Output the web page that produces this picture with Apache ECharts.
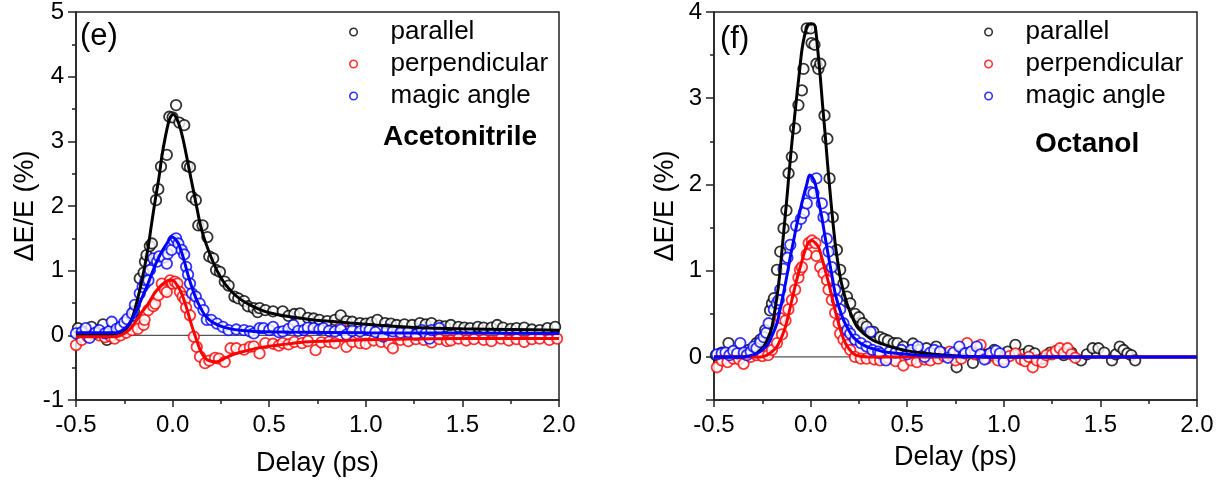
<!DOCTYPE html>
<html>
<head>
<meta charset="utf-8">
<script src="https://cdn.jsdelivr.net/npm/echarts@6/dist/echarts.min.js"></script>
<style>
  html, body { margin: 0; padding: 0; background: #fff; }
  #chart { width: 1228px; height: 486px; }
</style>
</head>
<body>
<div id="chart"></div>
<script>
// tick labels / ranges
var xTicks = [-0.5, 0.0, 0.5, 1.0, 1.5, 2.0];
var yTicksE = [-1, 0, 1, 2, 3, 4, 5];
var yTicksF = [0, 1, 2, 3, 4];
var legendNames = ['parallel', 'perpendicular', 'magic angle'];
var zeroLine = [[-0.5, 0], [2.0, 0]];

// (e) Acetonitrile - measured points
var eParallel = [[-0.49,0.11],[-0.46,0.06],[-0.42,0.13],[-0.39,0.04],[-0.36,0.17],[-0.35,-0.02],[-0.34,-0.07],[-0.31,0.05],[-0.28,0.08],[-0.25,0.10],[-0.21,0.30],[-0.2,0.37],[-0.17,0.88],[-0.15,0.97],[-0.143,1.14],[-0.135,1.24],[-0.118,1.38],[-0.107,1.42],[-0.086,2.09],[-0.074,2.26],[-0.06,2.61],[-0.03,2.79],[-0.017,3.38],[0.0,3.37],[0.018,3.56],[0.035,3.29],[0.06,3.25],[0.076,2.62],[0.09,2.6],[0.10,2.14],[0.12,2.09],[0.133,1.70],[0.155,1.70],[0.18,1.52],[0.19,1.22],[0.21,1.19],[0.225,1.01],[0.245,0.98],[0.27,0.83],[0.29,0.77],[0.32,0.60],[0.34,0.57],[0.37,0.53],[0.39,0.45],[0.42,0.42],[0.44,0.36],[0.45,0.42],[0.48,0.39],[0.52,0.37],[0.57,0.37],[0.60,0.30],[0.63,0.33],[0.66,0.34],[0.70,0.27],[0.73,0.26],[0.76,0.24],[0.80,0.22],[0.84,0.24],[0.87,0.31],[0.90,0.22],[0.93,0.21],[0.97,0.19],[1.00,0.18],[1.03,0.20],[1.06,0.24],[1.10,0.19],[1.13,0.18],[1.16,0.16],[1.20,0.17],[1.24,0.16],[1.28,0.19],[1.31,0.17],[1.34,0.19],[1.38,0.15],[1.41,0.14],[1.44,0.16],[1.48,0.13],[1.51,0.12],[1.54,0.11],[1.58,0.13],[1.61,0.12],[1.65,0.12],[1.68,0.16],[1.71,0.12],[1.75,0.10],[1.78,0.11],[1.82,0.12],[1.86,0.09],[1.90,0.08],[1.94,0.11],[1.98,0.13]];
var ePerp = [[-0.50,-0.15],[-0.47,-0.07],[-0.44,-0.02],[-0.41,0.02],[-0.38,0.0],[-0.35,-0.03],[-0.32,-0.02],[-0.30,-0.05],[-0.27,0.0],[-0.24,0.04],[-0.21,0.08],[-0.18,0.10],[-0.15,0.16],[-0.145,0.24],[-0.126,0.39],[-0.10,0.45],[-0.09,0.49],[-0.074,0.62],[-0.056,0.80],[-0.04,0.70],[-0.03,0.67],[-0.013,0.85],[0.0,0.80],[0.012,0.83],[0.025,0.80],[0.038,0.67],[0.052,0.60],[0.064,0.55],[0.07,0.43],[0.09,0.31],[0.11,-0.02],[0.125,-0.18],[0.142,-0.33],[0.168,-0.43],[0.19,-0.39],[0.22,-0.35],[0.24,-0.36],[0.27,-0.41],[0.30,-0.20],[0.33,-0.20],[0.37,-0.22],[0.40,-0.18],[0.42,-0.17],[0.45,-0.28],[0.48,-0.12],[0.52,-0.13],[0.55,-0.16],[0.57,-0.12],[0.60,-0.14],[0.63,-0.10],[0.67,-0.12],[0.70,-0.09],[0.74,-0.23],[0.77,-0.11],[0.81,-0.10],[0.84,-0.12],[0.87,0.13],[0.90,-0.18],[0.93,-0.10],[0.97,-0.12],[1.00,-0.13],[1.04,-0.08],[1.08,-0.10],[1.12,-0.13],[1.14,-0.20],[1.18,-0.07],[1.22,-0.09],[1.26,-0.06],[1.30,-0.07],[1.34,-0.11],[1.38,-0.06],[1.42,-0.09],[1.44,-0.08],[1.48,-0.05],[1.52,-0.08],[1.56,-0.06],[1.61,-0.07],[1.65,-0.09],[1.70,-0.05],[1.74,-0.08],[1.78,-0.06],[1.82,-0.10],[1.86,-0.06],[1.90,-0.05],[1.95,-0.07],[1.99,-0.05]];
var eMagic = [[-0.50,0.03],[-0.47,0.05],[-0.45,0.11],[-0.43,-0.04],[-0.40,0.04],[-0.38,0.08],[-0.35,0.03],[-0.33,0.06],[-0.315,0.21],[-0.29,0.10],[-0.27,0.13],[-0.25,0.20],[-0.235,0.25],[-0.21,0.34],[-0.195,0.47],[-0.17,0.65],[-0.155,0.75],[-0.143,0.80],[-0.14,0.85],[-0.125,0.85],[-0.117,1.01],[-0.10,1.19],[-0.08,1.14],[-0.07,1.22],[-0.045,1.20],[-0.03,1.11],[-0.025,1.26],[-0.005,1.32],[0.004,1.47],[0.018,1.50],[0.03,1.42],[0.047,1.32],[0.06,1.25],[0.07,1.06],[0.08,0.94],[0.09,0.80],[0.10,0.65],[0.12,0.60],[0.14,0.49],[0.16,0.39],[0.177,0.24],[0.20,0.24],[0.23,0.18],[0.26,0.13],[0.29,0.08],[0.33,0.09],[0.37,0.08],[0.40,0.06],[0.42,0.03],[0.45,0.11],[0.47,0.11],[0.50,0.08],[0.52,0.13],[0.55,0.05],[0.57,0.06],[0.60,0.10],[0.625,0.16],[0.65,0.07],[0.68,0.08],[0.70,0.12],[0.73,0.11],[0.76,0.09],[0.78,0.11],[0.81,0.07],[0.84,0.06],[0.87,0.09],[0.90,0.01],[0.93,0.07],[0.97,0.06],[1.00,0.10],[1.02,0.08],[1.05,0.05],[1.09,-0.02],[1.11,0.09],[1.14,0.06],[1.18,0.04],[1.22,0.05],[1.26,0.01],[1.29,0.08],[1.31,0.03],[1.33,-0.05],[1.34,0.08],[1.38,0.11]];

// (e) fitted curves
var eParallelFit = [[-0.5,0],[-0.35,0.0],[-0.3,0.02],[-0.25,0.08],[-0.22,0.19],[-0.2,0.35],[-0.17,0.70],[-0.15,0.98],[-0.126,1.37],[-0.11,1.70],[-0.09,2.09],[-0.07,2.45],[-0.056,2.76],[-0.04,3.03],[-0.022,3.28],[-0.01,3.38],[0.004,3.42],[0.02,3.36],[0.038,3.22],[0.055,3.02],[0.073,2.76],[0.09,2.50],[0.107,2.25],[0.125,1.98],[0.142,1.73],[0.16,1.53],[0.185,1.32],[0.21,1.13],[0.237,0.96],[0.27,0.80],[0.314,0.65],[0.35,0.56],[0.40,0.47],[0.45,0.40],[0.5,0.35],[0.6,0.29],[0.7,0.25],[0.8,0.22],[0.92,0.19],[1.05,0.16],[1.26,0.12],[1.5,0.10],[1.75,0.09],[2.0,0.08]];
var ePerpFit = [[-0.5,-0.02],[-0.3,-0.02],[-0.255,0.02],[-0.22,0.10],[-0.19,0.22],[-0.16,0.36],[-0.13,0.47],[-0.10,0.62],[-0.07,0.74],[-0.045,0.81],[-0.02,0.85],[0.0,0.85],[0.02,0.79],[0.04,0.69],[0.06,0.54],[0.075,0.40],[0.09,0.24],[0.107,0.08],[0.125,-0.08],[0.142,-0.22],[0.16,-0.32],[0.18,-0.38],[0.2,-0.40],[0.228,-0.41],[0.26,-0.37],[0.31,-0.30],[0.38,-0.24],[0.45,-0.19],[0.52,-0.16],[0.66,-0.11],[0.8,-0.09],[1.0,-0.07],[1.5,-0.05],[2.0,-0.05]];
var eMagicFit = [[-0.5,0.04],[-0.35,0.04],[-0.29,0.04],[-0.238,0.13],[-0.21,0.25],[-0.186,0.39],[-0.16,0.57],[-0.134,0.75],[-0.108,0.95],[-0.082,1.14],[-0.055,1.30],[-0.03,1.42],[-0.005,1.52],[0.01,1.50],[0.03,1.42],[0.047,1.28],[0.064,1.11],[0.08,0.93],[0.099,0.75],[0.12,0.58],[0.142,0.44],[0.165,0.32],[0.19,0.24],[0.22,0.18],[0.26,0.13],[0.3,0.10],[0.35,0.08],[0.435,0.06],[0.6,0.05],[1.0,0.04],[1.5,0.035],[2.0,0.03]];

// (f) Octanol - measured points
var fParallel = [[-0.49,0.02],[-0.46,0.05],[-0.425,0.16],[-0.40,0.06],[-0.38,0.0],[-0.35,0.03],[-0.32,0.08],[-0.30,0.05],[-0.28,0.16],[-0.26,0.20],[-0.235,0.31],[-0.21,0.54],[-0.2,0.62],[-0.19,0.68],[-0.174,1.01],[-0.157,1.22],[-0.14,1.49],[-0.125,1.70],[-0.114,2.13],[-0.097,2.32],[-0.08,2.65],[-0.063,2.92],[-0.045,3.09],[-0.037,3.34],[-0.02,3.81],[0.0,3.81],[0.005,3.64],[0.02,3.62],[0.03,3.40],[0.04,3.34],[0.05,3.40],[0.072,2.80],[0.087,2.53],[0.098,2.07],[0.115,1.62],[0.136,1.24],[0.153,1.01],[0.17,0.85],[0.188,0.70],[0.205,0.62],[0.23,0.50],[0.25,0.46],[0.27,0.39],[0.29,0.35],[0.325,0.29],[0.36,0.23],[0.38,0.21],[0.40,0.19],[0.43,0.16],[0.45,0.16],[0.48,0.12],[0.53,0.155],[0.56,0.08],[0.60,0.10],[0.65,0.12],[0.68,0.05],[0.72,0.02],[0.756,-0.12],[0.79,0.04],[0.84,-0.07],[0.88,0.05],[0.92,0.03],[0.95,0.08],[0.98,0.0],[1.02,0.06],[1.06,0.14],[1.10,0.03],[1.13,0.07],[1.16,0.04],[1.20,-0.02],[1.24,0.05],[1.28,0.06],[1.31,0.02],[1.35,0.05],[1.40,-0.04],[1.43,0.03],[1.46,0.10],[1.49,0.10],[1.52,0.05],[1.56,-0.04],[1.58,0.03],[1.60,0.12],[1.62,0.08],[1.64,0.04],[1.66,0.02],[1.68,-0.04]];
var fPerp = [[-0.485,-0.12],[-0.46,-0.04],[-0.43,-0.06],[-0.40,-0.02],[-0.37,-0.03],[-0.347,-0.08],[-0.31,0.0],[-0.28,0.02],[-0.25,0.01],[-0.22,0.02],[-0.2,0.08],[-0.174,0.16],[-0.157,0.45],[-0.148,0.26],[-0.13,0.42],[-0.115,0.55],[-0.097,0.66],[-0.08,0.78],[-0.063,0.92],[-0.055,1.01],[-0.045,1.04],[-0.02,1.19],[-0.01,1.32],[0.007,1.35],[0.025,1.32],[0.03,1.17],[0.05,1.04],[0.067,0.97],[0.085,0.89],[0.093,0.78],[0.11,0.66],[0.127,0.51],[0.145,0.39],[0.153,0.27],[0.17,0.20],[0.188,0.14],[0.205,0.08],[0.23,0.0],[0.26,-0.02],[0.29,-0.02],[0.33,-0.03],[0.36,-0.04],[0.40,-0.01],[0.44,-0.05],[0.48,-0.10],[0.52,-0.04],[0.55,-0.06],[0.59,-0.03],[0.62,-0.04],[0.66,-0.02],[0.69,0.01],[0.72,0.06],[0.75,-0.04],[0.78,-0.02],[0.81,0.16],[0.85,0.03],[0.88,0.14],[0.91,-0.02],[0.94,0.02],[0.97,-0.04],[1.0,-0.03],[1.03,0.01],[1.06,0.04],[1.09,-0.03],[1.11,-0.05],[1.13,0.0],[1.15,-0.12],[1.17,-0.04],[1.2,-0.06],[1.22,0.02],[1.25,0.03],[1.27,0.07],[1.29,0.10],[1.31,0.04],[1.33,0.10],[1.35,0.03],[1.37,-0.01]];
var fMagic = [[-0.485,0.03],[-0.46,0.04],[-0.44,0.05],[-0.42,0.02],[-0.40,0.07],[-0.38,0.04],[-0.364,0.16],[-0.345,0.05],[-0.33,0.02],[-0.31,0.06],[-0.295,0.12],[-0.28,0.10],[-0.26,0.17],[-0.243,0.23],[-0.23,0.28],[-0.217,0.39],[-0.19,0.55],[-0.175,0.62],[-0.165,0.66],[-0.157,0.78],[-0.14,1.02],[-0.12,1.15],[-0.105,1.30],[-0.075,1.52],[-0.05,1.60],[-0.035,1.67],[-0.02,1.78],[0.0,1.91],[0.015,1.90],[0.03,2.07],[0.058,1.78],[0.067,1.62],[0.084,1.37],[0.093,1.22],[0.11,1.04],[0.127,0.78],[0.136,0.66],[0.153,0.55],[0.17,0.39],[0.19,0.31],[0.205,0.27],[0.23,0.20],[0.26,0.16],[0.29,0.12],[0.31,0.29],[0.32,0.08],[0.35,0.06],[0.36,0.04],[0.39,-0.04],[0.41,0.06],[0.44,0.05],[0.47,0.08],[0.50,0.03],[0.52,0.08],[0.555,0.12],[0.59,0.0],[0.62,0.05],[0.64,0.08],[0.67,0.06],[0.71,-0.01],[0.74,0.05],[0.77,0.12],[0.80,0.04],[0.83,0.06],[0.86,0.12],[0.88,0.03],[0.90,-0.03],[0.93,0.04],[0.96,0.07],[0.98,0.04],[1.0,-0.06]];

// (f) fitted curves
var fParallelFit = [[-0.5,0],[-0.35,0.0],[-0.295,0.02],[-0.243,0.12],[-0.22,0.22],[-0.20,0.35],[-0.174,0.70],[-0.16,0.95],[-0.148,1.24],[-0.135,1.55],[-0.122,1.86],[-0.11,2.17],[-0.097,2.48],[-0.083,2.78],[-0.07,3.06],[-0.057,3.32],[-0.045,3.56],[-0.03,3.74],[-0.015,3.84],[0.0,3.86],[0.012,3.86],[0.024,3.83],[0.037,3.56],[0.05,3.25],[0.062,2.92],[0.075,2.59],[0.087,2.26],[0.10,1.93],[0.113,1.62],[0.127,1.32],[0.14,1.11],[0.153,0.93],[0.17,0.76],[0.188,0.62],[0.21,0.49],[0.24,0.35],[0.28,0.26],[0.325,0.19],[0.37,0.15],[0.41,0.12],[0.5,0.07],[0.6,0.04],[0.7,0.02],[0.9,0.0],[2.0,0.0]];
var fPerpFit = [[-0.5,0],[-0.3,0.0],[-0.26,0.0],[-0.226,0.02],[-0.2,0.06],[-0.174,0.12],[-0.15,0.23],[-0.13,0.35],[-0.113,0.50],[-0.097,0.66],[-0.08,0.82],[-0.063,0.97],[-0.045,1.11],[-0.028,1.24],[-0.01,1.33],[0.007,1.35],[0.02,1.33],[0.04,1.28],[0.058,1.15],[0.075,1.01],[0.093,0.86],[0.11,0.70],[0.127,0.54],[0.145,0.39],[0.162,0.26],[0.18,0.16],[0.2,0.09],[0.22,0.04],[0.25,0.01],[0.3,0.0],[2.0,0.0]];
var fMagicFit = [[-0.5,0],[-0.35,0.0],[-0.277,0.04],[-0.245,0.09],[-0.217,0.16],[-0.195,0.27],[-0.174,0.39],[-0.157,0.56],[-0.14,0.74],[-0.122,0.95],[-0.105,1.16],[-0.087,1.36],[-0.07,1.55],[-0.052,1.72],[-0.037,1.86],[-0.02,2.0],[-0.005,2.11],[0.01,2.08],[0.024,2.01],[0.04,1.82],[0.058,1.62],[0.075,1.39],[0.093,1.16],[0.11,0.95],[0.127,0.74],[0.148,0.57],[0.17,0.43],[0.195,0.32],[0.22,0.23],[0.25,0.17],[0.29,0.12],[0.33,0.09],[0.377,0.06],[0.45,0.04],[0.55,0.02],[0.7,0.01],[1.0,0.0],[2.0,0.0]];

var FONT = '"Liberation Sans", Arial, sans-serif';
var AX = '#222';
var colors = ['#000000', '#ff0000', '#0000ff'];

var chart = echarts.init(document.getElementById('chart'), null, { renderer: 'canvas' });

function xAxisOf(grid, gap) {
  return {
    type: 'value', gridIndex: grid, min: xTicks[0], max: xTicks[xTicks.length - 1], interval: 0.5,
    name: 'Delay (ps)', nameLocation: 'middle', nameGap: gap,
    nameTextStyle: { fontFamily: FONT, fontSize: 27, color: '#000' },
    axisLine: { show: true, onZero: false, lineStyle: { color: AX, width: 1.5 } },
    axisTick: { show: true, inside: false, length: 7, lineStyle: { color: AX, width: 1.5 } },
    minorTick: { show: true, splitNumber: 2, length: 4, lineStyle: { color: AX, width: 1.5 } },
    splitLine: { show: false },
    axisLabel: { fontFamily: FONT, fontSize: 24, color: '#000', margin: 13,
      formatter: function (v) { return v.toFixed(1); } }
  };
}

function yAxisOf(grid, ticks, gap, mn) {
  var ax = {
    type: 'value', gridIndex: grid, min: mn, max: ticks[ticks.length - 1],
    name: '\u0394E/E (%)', nameLocation: 'middle', nameGap: gap, nameRotate: 90,
    nameTextStyle: { fontFamily: FONT, fontSize: 27, color: '#000' },
    axisLine: { show: true, onZero: false, lineStyle: { color: AX, width: 1.5 } },
    axisTick: { show: true, inside: false, length: 8, lineStyle: { color: AX, width: 1.5 } },
    minorTick: { show: true, splitNumber: 2, length: 4, lineStyle: { color: AX, width: 1.5 } },
    splitLine: { show: false },
    axisLabel: { fontFamily: FONT, fontSize: 24, color: '#000', margin: 12, showMinLabel: mn === ticks[0] }
  };
  if (mn === ticks[0]) ax.interval = 1;
  return ax;
}

function dots(name, data, c, idx) {
  return {
    name: name, type: 'scatter', xAxisIndex: idx, yAxisIndex: idx, data: data,
    symbol: 'circle', symbolSize: 10.5,
    itemStyle: { color: '#fff', borderColor: c, borderWidth: 1.8 }
  };
}

function fit(name, data, c, idx) {
  return {
    name: name, type: 'line', xAxisIndex: idx, yAxisIndex: idx, data: data,
    showSymbol: false, symbol: 'none', smooth: 0.3,
    lineStyle: { color: c, width: 3 }, itemStyle: { color: c }
  };
}

function zero(idx) {
  return {
    type: 'line', xAxisIndex: idx, yAxisIndex: idx, data: zeroLine, z: 1, silent: true,
    showSymbol: false, symbol: 'none', lineStyle: { color: '#555', width: 1.2 }
  };
}

function legendOf(left) {
  return {
    data: legendNames, orient: 'vertical', left: left, top: 19, padding: 0,
    itemWidth: 64, itemHeight: 7.5, itemGap: 6, selectedMode: false,
    itemStyle: { borderWidth: 1.6 },
    textStyle: { fontFamily: FONT, fontSize: 26, color: '#000' }
  };
}

var option = {
  animation: false,
  backgroundColor: '#fff',
  title: [
    { text: '(e)', left: 80, top: 21, padding: 0, textStyle: { fontFamily: FONT, fontSize: 31, fontWeight: 'normal', color: '#000' } },
    { text: 'Acetonitrile', left: 383, top: 123, padding: 0, textStyle: { fontFamily: FONT, fontSize: 28, fontWeight: 'bold', color: '#000' } },
    { text: '(f)', left: 720, top: 24, padding: 0, textStyle: { fontFamily: FONT, fontSize: 31, fontWeight: 'normal', color: '#000' } },
    { text: 'Octanol', left: 1035, top: 130, padding: 0, textStyle: { fontFamily: FONT, fontSize: 28, fontWeight: 'bold', color: '#000' } }
  ],
  legend: [legendOf(349), legendOf(984)],
  grid: [
    { left: 76, top: 12, width: 483, height: 388, show: true, borderColor: AX, borderWidth: 1.5, backgroundColor: 'transparent' },
    { left: 714, top: 12, width: 483, height: 388, show: true, borderColor: AX, borderWidth: 1.5, backgroundColor: 'transparent' }
  ],
  xAxis: [xAxisOf(0, 50), xAxisOf(1, 44)],
  yAxis: [yAxisOf(0, yTicksE, 36, -1), yAxisOf(1, yTicksF, 35, -0.5)],
  series: [
    zero(0),
    dots(legendNames[0], eParallel, colors[0], 0),
    fit(legendNames[0], eParallelFit, colors[0], 0),
    dots(legendNames[1], ePerp, colors[1], 0),
    fit(legendNames[1], ePerpFit, colors[1], 0),
    dots(legendNames[2], eMagic, colors[2], 0),
    fit(legendNames[2], eMagicFit, colors[2], 0),
    zero(1),
    dots(legendNames[0], fParallel, colors[0], 1),
    fit(legendNames[0], fParallelFit, colors[0], 1),
    dots(legendNames[1], fPerp, colors[1], 1),
    fit(legendNames[1], fPerpFit, colors[1], 1),
    dots(legendNames[2], fMagic, colors[2], 1),
    fit(legendNames[2], fMagicFit, colors[2], 1)
  ]
};

chart.setOption(option);
</script>
</body>
</html>
